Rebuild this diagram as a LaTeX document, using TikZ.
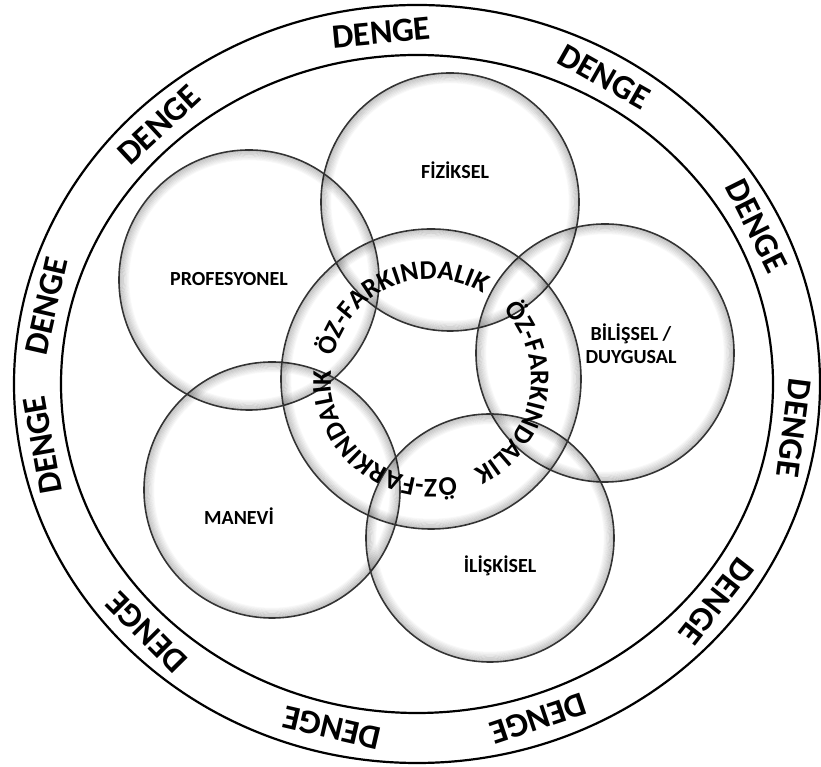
\documentclass[tikz,border=0pt]{standalone}
\usepackage{fontspec}
\setmainfont{Carlito}
\usetikzlibrary{calc,decorations.text}

\tikzset{
  ringline/.style={line width=2.2pt, black},
  bubble/.style={line width=1.6pt, black!80},
  bubblelabel/.style={font=\fontsize{20}{23}\selectfont\bfseries, align=center, inner sep=0pt},
  dengetext/.style={font=\fontsize{34}{34}\selectfont\bfseries, inner sep=0pt},
}
% circle with a soft grey inner rim
\newcommand{\glowbubble}[2]{%
  \foreach \k [evaluate=\k as \op using 0.22-0.024*\k] in {1,...,8}
    \draw[black, opacity=\op, line width=1.3pt] (#1) circle[radius=#2pt-1.2pt*\k];
  \draw[bubble] (#1) circle[radius=#2pt];
}

\begin{document}
\begin{tikzpicture}[x=1pt,y=1pt]
  \useasboundingbox (0,0) rectangle (821,767);

  % outer balance ring
  \coordinate (ring) at (417,383);
  \draw[ringline] (ring) ellipse[x radius=403pt, y radius=379pt];
  \draw[ringline] (ring) ellipse[x radius=356pt, y radius=329pt];
  \foreach \a [count=\i] in {95.4,60.5,26.6,-7.2,-38,-71.4,-103,-135.3,-170,167.2,132.8}
    \node[dengetext, rotate=\a-90] (denge\i) at ($(ring)+(\a:380pt and 353pt)$) {DENGE};

  % five areas
  \coordinate (fiz) at (450,565);
  \coordinate (pro) at (249,487);
  \coordinate (bil) at (605,414);
  \coordinate (man) at (272,277);
  \coordinate (ili) at (490,229);
  \coordinate (core) at (431,388);

  \glowbubble{fiz}{129}
  \glowbubble{pro}{130}
  \glowbubble{bil}{129}
  \glowbubble{man}{128}
  \glowbubble{ili}{124}
  \glowbubble{core}{150}

  \node[bubblelabel] (fizlabel) at (455,597) {FİZİKSEL};
  \node[bubblelabel] (prolabel) at (229,488) {PROFESYONEL};
  \node[bubblelabel] (billabel) at (631,423) {BİLİŞSEL /\\DUYGUSAL};
  \node[bubblelabel] (manlabel) at (239,251) {MANEVİ};
  \node[bubblelabel] (ililabel) at (500,201) {İLİŞKİSEL};

  % self-awareness text round the core
  \foreach \s in {167,44,-76}
    \path[decorate, decoration={text along path,
        text={|\fontsize{27}{27}\selectfont\bfseries|ÖZ-FARKINDALIK}}]
      ($(core)+(\s:100pt)$) arc[start angle=\s, end angle=\s-118, radius=100pt];
\end{tikzpicture}
\end{document}
